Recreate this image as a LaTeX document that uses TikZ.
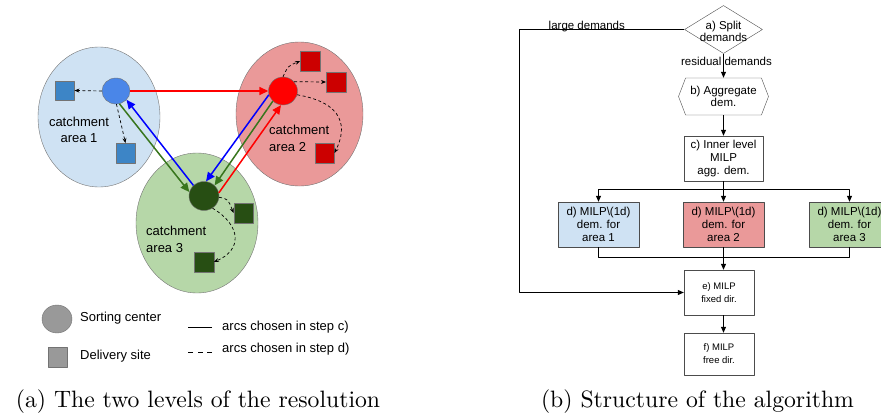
\documentclass[tikz,border=0pt]{standalone}
\usepackage{fontspec}
\newfontfamily\arialfont{Liberation Sans}
\usetikzlibrary{arrows.meta,shapes.geometric,shapes.symbols}
\definecolor{areaone}{HTML}{CFE2F3}
\definecolor{areatwo}{HTML}{EA9999}
\definecolor{areathree}{HTML}{B6D7A8}
\definecolor{scone}{HTML}{4A86E8}
\definecolor{sctwo}{HTML}{FF0000}
\definecolor{scthree}{HTML}{274E13}
\definecolor{dsone}{HTML}{3D85C6}
\definecolor{dstwo}{HTML}{CC0000}
\definecolor{arcgreen}{HTML}{38761D}
\definecolor{arcblue}{HTML}{0000FF}
\tikzset{
 area/.style={ellipse,draw=black!55,inner sep=0pt},
 sortc/.style={ellipse,draw=black!55,inner sep=0pt},
 site/.style={rectangle,draw=black!55,inner sep=0pt,minimum size=19.5pt},
 arc/.style={line width=1.5pt,-{Triangle[length=9pt,width=8pt]}},
 subarc/.style={dash pattern=on 3pt off 2.5pt,line width=0.7pt,-{Stealth[length=5pt,width=4pt]}},
 box/.style={rectangle,draw=black!70,align=center,inner sep=1pt},
 flow/.style={line width=0.8pt}
}
\begin{document}
\begin{tikzpicture}[x=1pt,y=-1pt,line join=round,font=\arialfont\fontsize{13}{16.5}\selectfont]
\path[use as bounding box,clip] (0,0) rectangle (881,415);
% (a) catchment areas
\node[area,fill=areaone,minimum width=122pt,minimum height=140pt] (ca1) at (99,117) {};
\node[area,fill=areatwo,minimum width=127pt,minimum height=144pt] (ca2) at (299.5,114) {};
\node[area,fill=areathree,minimum width=122pt,minimum height=140pt] (ca3) at (197,223) {};
\node[align=center] (ta1) at (79,130) {catchment\\area 1};
\node[align=left,anchor=west,inner sep=0pt] (ta2) at (269,138.5) {catchment\\area 2};
\node[align=left,anchor=west,inner sep=0pt] (ta3) at (146,239.5) {catchment\\area 3};
\node[sortc,fill=scone,minimum width=28pt,minimum height=26pt] (sc1) at (116,91) {};
\node[sortc,fill=sctwo,minimum width=29pt,minimum height=28pt] (sc2) at (283,91) {};
\node[sortc,fill=scthree,minimum width=30pt,minimum height=29pt] (sc3) at (204,196) {};
\foreach \n/\x/\y/\c in {ds11/64.5/90.5/dsone, ds12/125.5/153/dsone, ds21/310/61/dstwo,
  ds22/336/82/dstwo, ds23/324.5/153/dstwo, ds31/243.5/213/scthree, ds32/204/262/scthree}
  \node[site,fill=\c] (\n) at (\x,\y) {};
\draw[subarc] (sc1.west) -- (ds11.east);
\draw[subarc] (sc1.-88) -- (ds12.north);
\draw[subarc] (sc2.north) .. controls (288,66) .. (ds21.west);
\draw[subarc] (sc2.40) -- (ds22.west);
\draw[subarc] (sc2.-15) .. controls (345,103) and (347,128) .. (ds23.east);
\draw[subarc] (sc3.-5) .. controls (228,199) .. (ds31.west);
\draw[subarc] (sc3.-55) .. controls (242,226) and (242,250) .. (ds32.east);
\draw[arc,sctwo] (sc1.east) -- (sc2.west);
\draw[arc,arcblue] (sc3.135) -- (sc1.-40);
\draw[arc,arcgreen] (sc1.-75) -- (sc3.165);
\draw[arc,arcblue] (sc2.195) -- (sc3.82);
\draw[arc,arcgreen] (sc2.225) -- (sc3.45);
\draw[arc,sctwo] (sc3.12) -- (sc2.262);
% legend
\node[sortc,fill=black!40,minimum width=30pt,minimum height=28pt] (lsc) at (57,319) {};
\node[site,fill=black!40] (lds) at (57.5,357) {};
\node[anchor=west,inner sep=0pt] (tsc) at (80,318) {Sorting center};
\node[anchor=west,inner sep=0pt] (tds) at (80,356) {Delivery site};
\node[anchor=west,inner sep=0pt] (tarc) at (222,327) {arcs chosen in step c)};
\node[anchor=west,inner sep=0pt] (tsub) at (222,349) {arcs chosen in step d)};
\draw[line width=1pt] ([xshift=-10pt]tarc.west) -- ++(-24,0);
\draw[line width=1pt,dash pattern=on 5pt off 4.5pt] ([xshift=-10pt,yshift=-3.5pt]tsub.west) -- ++(-24,0);
\node[font=\rmfamily\normalsize,anchor=base] (capa) at (198,407) {\scalebox{2.37}{(a) The two levels of the resolution}};
% (b) algorithm
\begin{scope}[font=\arialfont\fontsize{11.5}{12.7}\selectfont,>={Triangle[length=6pt,width=5pt]}]
\node[diamond,draw=black!70,minimum width=78pt,minimum height=48pt,inner sep=0pt,
  label={[align=center,inner sep=0pt,yshift=-2pt]center:a) Split\\demands}] (split) at (723.5,29.5) {};
\node[signal,signal to=east and west,signal pointer angle=138,draw=black!70,minimum width=90pt,
  minimum height=37pt,align=center,inner sep=0pt] (agg) at (723.5,96.5) {b) Aggregate\\dem.};
\node[box,minimum width=79pt,minimum height=45pt] (inner) at (723.5,158.5) {c) Inner level\\MILP\\agg. dem.};
\foreach \n/\x/\c/\k in {d1/598.5/areaone/1, d2/723.5/areatwo/2, d3/849.5/areathree/3}
  \node[box,fill=\c,minimum width=81pt,minimum height=45pt] (\n) at (\x,224.5) {d) MILP\textbackslash(1d)\\dem. for\\area \k};
\node[box,minimum width=70pt,minimum height=45pt,font=\arialfont\fontsize{9.5}{13}\selectfont] (mfix) at (719,292.5) {e) MILP\\fixed dir.};
\node[box,minimum width=70pt,minimum height=42pt,font=\arialfont\fontsize{9.5}{13}\selectfont] (mfree) at (719,354) {f) MILP\\free dir.};
\coordinate (bypass) at (519,0);
\coordinate (fork) at (723.5,189);
\coordinate (join) at (723.5,257);
\draw[flow,->] (split.south) -- (agg.north) node[pos=0.3,xshift=3pt] {residual demands};
\draw[flow,->] (split.west) -- node[pos=0.59,above,inner sep=0pt,yshift=-3pt] {large demands} (split.west -| bypass) |- (mfix.west);
\draw[flow,->] (agg.south) -- (inner.north);
\foreach \d in {d1,d2,d3} \draw[flow,->] (inner.south) -- (fork) -| (\d.north);
\foreach \d in {d1,d2,d3} \draw[flow] (\d.south) |- (join);
\draw[flow,->] (join) -- (join |- mfix.north);
\draw[flow,->] (join |- mfix.south) -- (join |- mfree.north);
\end{scope}
\node[font=\rmfamily\normalsize,anchor=base] (capb) at (697.5,407) {\scalebox{2.37}{(b) Structure of the algorithm}};
\end{tikzpicture}
\end{document}
